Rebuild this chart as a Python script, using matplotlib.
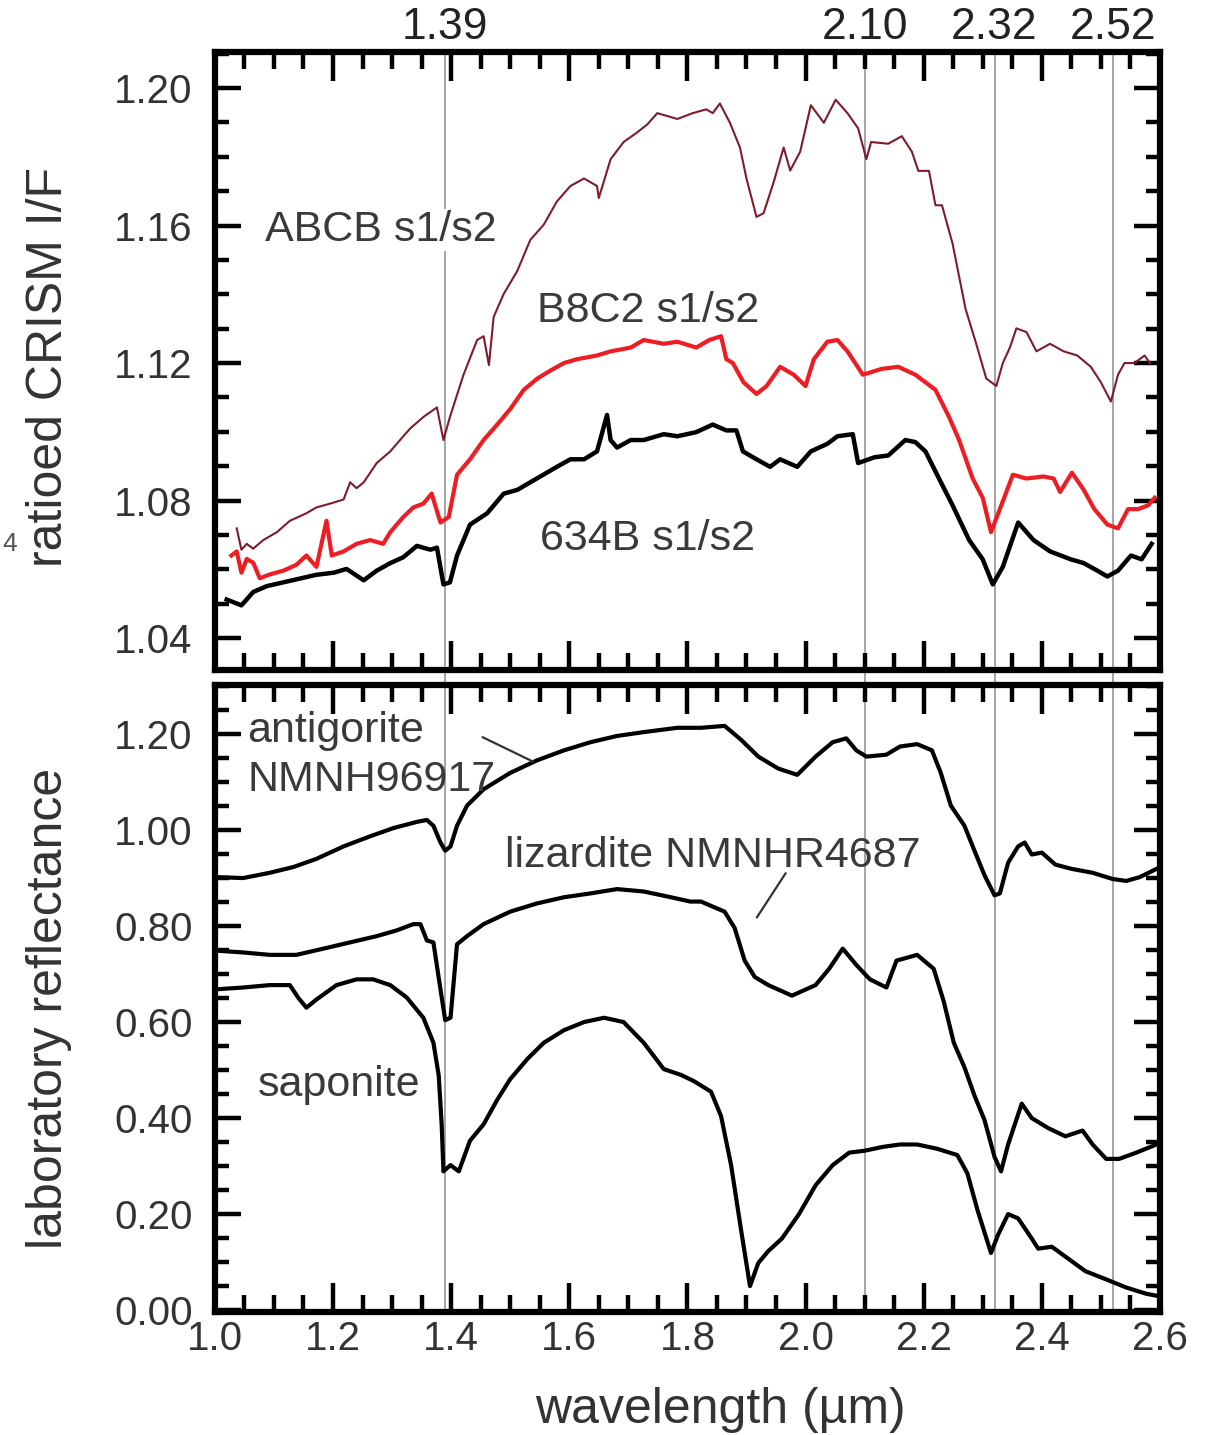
import numpy as np
import matplotlib.pyplot as plt
from matplotlib.ticker import MultipleLocator, FormatStrFormatter

plt.rcParams['font.family'] = ['Liberation Sans', 'DejaVu Sans']

# ---- top panel: ratioed CRISM spectra ----
abcb_wl = [1.037, 1.045, 1.054, 1.065, 1.082, 1.105, 1.127, 1.155, 1.172, 1.195,
           1.218, 1.229, 1.240, 1.252, 1.274, 1.297, 1.319, 1.331, 1.353, 1.376,
           1.387, 1.398, 1.421, 1.444, 1.455, 1.464, 1.472, 1.489, 1.512, 1.534,
           1.557, 1.579, 1.602, 1.625, 1.647, 1.650, 1.670, 1.692, 1.715, 1.732,
           1.749, 1.783, 1.809, 1.832, 1.843, 1.855, 1.872, 1.889, 1.900, 1.917,
           1.929, 1.946, 1.963, 1.974, 1.991, 2.009, 2.031, 2.051, 2.071, 2.089,
           2.103, 2.111, 2.140, 2.163, 2.180, 2.191, 2.209, 2.220, 2.231, 2.249,
           2.271, 2.289, 2.306, 2.323, 2.334, 2.346, 2.357, 2.374, 2.391, 2.414,
           2.437, 2.460, 2.483, 2.500, 2.517, 2.529, 2.540, 2.557, 2.574, 2.583]
abcb_val = [1.0719, 1.0657, 1.0674, 1.0660, 1.0685, 1.0708, 1.0741, 1.0763, 1.0780, 1.0791,
            1.0803, 1.0853, 1.0836, 1.0853, 1.0909, 1.0943, 1.0987, 1.1010, 1.1043, 1.1071,
            1.0976, 1.1043, 1.1166, 1.1267, 1.1278, 1.1194, 1.1334, 1.1401, 1.1468, 1.1558,
            1.1603, 1.1670, 1.1715, 1.1737, 1.1715, 1.1680, 1.1793, 1.1843, 1.1871, 1.1894,
            1.1927, 1.1910, 1.1927, 1.1938, 1.1927, 1.1955, 1.1899, 1.1827, 1.1737, 1.1625,
            1.1636, 1.1726, 1.1827, 1.1760, 1.1815, 1.1950, 1.1899, 1.1966, 1.1927, 1.1883,
            1.1793, 1.1843, 1.1838, 1.1860, 1.1815, 1.1759, 1.1759, 1.1659, 1.1659, 1.1547,
            1.1357, 1.1256, 1.1155, 1.1133, 1.1200, 1.1245, 1.1301, 1.1290, 1.1234, 1.1256,
            1.1234, 1.1222, 1.1189, 1.1144, 1.1088, 1.1166, 1.1200, 1.1200, 1.1222, 1.1200]

b8c2_wl = [1.028, 1.037, 1.045, 1.054, 1.065, 1.076, 1.093, 1.116, 1.138, 1.155,
           1.172, 1.189, 1.198, 1.218, 1.240, 1.263, 1.285, 1.297, 1.319, 1.336,
           1.353, 1.367, 1.382, 1.396, 1.410, 1.432, 1.455, 1.478, 1.500, 1.523,
           1.546, 1.568, 1.591, 1.613, 1.647, 1.670, 1.704, 1.726, 1.760, 1.783,
           1.815, 1.837, 1.857, 1.866, 1.877, 1.895, 1.917, 1.934, 1.957, 1.980,
           2.000, 2.014, 2.037, 2.054, 2.071, 2.097, 2.129, 2.157, 2.186, 2.220,
           2.243, 2.260, 2.283, 2.300, 2.314, 2.329, 2.351, 2.374, 2.403, 2.420,
           2.431, 2.451, 2.471, 2.489, 2.511, 2.529, 2.546, 2.563, 2.580, 2.591]
b8c2_val = [1.0640, 1.0652, 1.0590, 1.0630, 1.0619, 1.0574, 1.0585, 1.0596, 1.0613, 1.0640,
            1.0607, 1.0741, 1.0640, 1.0652, 1.0674, 1.0685, 1.0674, 1.0708, 1.0752, 1.0780,
            1.0791, 1.0820, 1.0736, 1.0752, 1.0875, 1.0920, 1.0976, 1.1021, 1.1066, 1.1122,
            1.1155, 1.1178, 1.1200, 1.1211, 1.1222, 1.1234, 1.1245, 1.1267, 1.1256, 1.1262,
            1.1245, 1.1267, 1.1278, 1.1211, 1.1200, 1.1144, 1.1110, 1.1133, 1.1189, 1.1166,
            1.1133, 1.1211, 1.1262, 1.1267, 1.1234, 1.1166, 1.1183, 1.1189, 1.1166, 1.1122,
            1.1043, 1.0976, 1.0864, 1.0808, 1.0708, 1.0775, 1.0875, 1.0864, 1.0870, 1.0864,
            1.0825, 1.0881, 1.0831, 1.0775, 1.0730, 1.0719, 1.0775, 1.0775, 1.0786, 1.0808]

s634b_wl = [1.020, 1.045, 1.065, 1.088, 1.116, 1.144, 1.172, 1.201, 1.223, 1.252,
            1.274, 1.297, 1.319, 1.342, 1.365, 1.376, 1.387, 1.398, 1.410, 1.432,
            1.461, 1.489, 1.512, 1.534, 1.557, 1.579, 1.602, 1.625, 1.647, 1.664,
            1.670, 1.681, 1.704, 1.726, 1.760, 1.783, 1.815, 1.843, 1.866, 1.883,
            1.894, 1.917, 1.940, 1.957, 1.986, 2.009, 2.037, 2.054, 2.080, 2.089,
            2.117, 2.140, 2.169, 2.186, 2.203, 2.226, 2.249, 2.277, 2.300, 2.317,
            2.334, 2.360, 2.386, 2.414, 2.449, 2.471, 2.494, 2.511, 2.529, 2.551,
            2.569, 2.586]
s634b_val = [1.0512, 1.0495, 1.0534, 1.0551, 1.0562, 1.0573, 1.0584, 1.0590, 1.0601, 1.0568,
             1.0596, 1.0618, 1.0635, 1.0668, 1.0657, 1.0663, 1.0556, 1.0562, 1.0640, 1.0730,
             1.0763, 1.0820, 1.0831, 1.0853, 1.0876, 1.0898, 1.0920, 1.0920, 1.0943, 1.1049,
             1.0976, 1.0954, 1.0976, 1.0976, 1.0993, 1.0987, 1.0999, 1.1021, 1.1004, 1.1004,
             1.0943, 1.0920, 1.0898, 1.0920, 1.0898, 1.0943, 1.0965, 1.0987, 1.0993, 1.0909,
             1.0926, 1.0931, 1.0976, 1.0970, 1.0943, 1.0864, 1.0786, 1.0685, 1.0629, 1.0556,
             1.0607, 1.0736, 1.0685, 1.0652, 1.0629, 1.0618, 1.0596, 1.0579, 1.0596, 1.0640,
             1.0629, 1.0674]

# ---- bottom panel: laboratory spectra ----
antig_wl = [1.000, 1.048, 1.093, 1.133, 1.172, 1.218, 1.263, 1.302, 1.342, 1.359,
            1.370, 1.382, 1.390, 1.399, 1.410, 1.427, 1.455, 1.500, 1.545, 1.591,
            1.636, 1.681, 1.726, 1.783, 1.823, 1.863, 1.891, 1.920, 1.954, 1.986,
            2.017, 2.046, 2.069, 2.086, 2.103, 2.137, 2.160, 2.189, 2.214, 2.229,
            2.246, 2.269, 2.286, 2.303, 2.320, 2.329, 2.343, 2.360, 2.371, 2.383,
            2.400, 2.423, 2.451, 2.486, 2.520, 2.543, 2.566, 2.594]
antig_val = [0.902, 0.900, 0.911, 0.923, 0.940, 0.966, 0.987, 1.004, 1.017, 1.021,
             1.009, 0.974, 0.957, 0.966, 1.009, 1.051, 1.085, 1.119, 1.145, 1.166,
             1.183, 1.196, 1.204, 1.213, 1.213, 1.217, 1.188, 1.153, 1.128, 1.115,
             1.153, 1.183, 1.191, 1.166, 1.153, 1.157, 1.174, 1.179, 1.166, 1.119,
             1.051, 1.009, 0.957, 0.906, 0.864, 0.868, 0.932, 0.966, 0.974, 0.949,
             0.953, 0.928, 0.919, 0.911, 0.898, 0.894, 0.902, 0.919]

lizard_wl = [1.000, 1.048, 1.093, 1.138, 1.184, 1.229, 1.274, 1.308, 1.336, 1.348,
             1.359, 1.370, 1.382, 1.390, 1.399, 1.410, 1.427, 1.455, 1.500, 1.545,
             1.591, 1.636, 1.681, 1.726, 1.772, 1.805, 1.823, 1.863, 1.880, 1.897,
             1.914, 1.937, 1.977, 2.017, 2.040, 2.063, 2.086, 2.109, 2.137, 2.154,
             2.189, 2.217, 2.234, 2.251, 2.269, 2.286, 2.303, 2.320, 2.331, 2.343,
             2.366, 2.383, 2.411, 2.440, 2.469, 2.486, 2.509, 2.531, 2.560, 2.594]
lizard_val = [0.749, 0.745, 0.740, 0.740, 0.753, 0.766, 0.779, 0.791, 0.804, 0.804,
              0.770, 0.766, 0.668, 0.604, 0.609, 0.762, 0.779, 0.804, 0.830, 0.847,
              0.860, 0.868, 0.877, 0.872, 0.860, 0.851, 0.851, 0.830, 0.796, 0.728,
              0.694, 0.677, 0.655, 0.677, 0.711, 0.753, 0.719, 0.689, 0.672, 0.728,
              0.740, 0.711, 0.643, 0.557, 0.506, 0.447, 0.396, 0.319, 0.289, 0.345,
              0.430, 0.400, 0.379, 0.362, 0.374, 0.345, 0.315, 0.315, 0.328, 0.345]

sapon_wl = [1.000, 1.048, 1.093, 1.127, 1.141, 1.155, 1.172, 1.206, 1.240, 1.268,
            1.297, 1.325, 1.353, 1.370, 1.379, 1.384, 1.387, 1.399, 1.413, 1.432,
            1.455, 1.478, 1.500, 1.529, 1.557, 1.591, 1.625, 1.659, 1.692, 1.726,
            1.760, 1.789, 1.811, 1.840, 1.857, 1.874, 1.891, 1.906, 1.920, 1.937,
            1.960, 1.989, 2.017, 2.046, 2.074, 2.100, 2.131, 2.160, 2.189, 2.223,
            2.257, 2.274, 2.291, 2.314, 2.326, 2.343, 2.360, 2.383, 2.394, 2.417,
            2.446, 2.474, 2.509, 2.543, 2.577, 2.594]
sapon_val = [0.668, 0.672, 0.677, 0.677, 0.651, 0.630, 0.647, 0.677, 0.689, 0.689,
             0.677, 0.651, 0.609, 0.557, 0.489, 0.387, 0.289, 0.302, 0.289, 0.353,
             0.387, 0.438, 0.481, 0.523, 0.557, 0.583, 0.600, 0.609, 0.600, 0.557,
             0.502, 0.490, 0.477, 0.455, 0.404, 0.302, 0.166, 0.050, 0.098, 0.123,
             0.149, 0.200, 0.260, 0.302, 0.328, 0.332, 0.340, 0.345, 0.345, 0.336,
             0.323, 0.285, 0.209, 0.119, 0.157, 0.200, 0.191, 0.149, 0.128, 0.132,
             0.106, 0.081, 0.064, 0.047, 0.034, 0.030]

band_wl = [1.39, 2.10, 2.32, 2.52]
band_labels = ['1.39', '2.10', '2.32', '2.52']

txt = '#3a3a3a'

fig = plt.figure(figsize=(12.07, 14.35), dpi=100)
ax1 = fig.add_axes([0.178, 0.5331, 0.783, 0.4307])
ax2 = fig.add_axes([0.178, 0.0857, 0.783, 0.4369])

for ax in (ax1, ax2):
    ax.set_xlim(1.0, 2.6)
    ax.xaxis.set_major_locator(MultipleLocator(0.2))
    ax.xaxis.set_minor_locator(MultipleLocator(0.05))
    ax.tick_params(which='both', direction='in', top=True, right=True,
                   width=3.2, color='black', labelsize=29, labelcolor='#333333')
    ax.tick_params(axis='x', which='major', length=21, pad=6)
    ax.tick_params(axis='x', which='minor', length=12)
    ax.tick_params(axis='y', which='major', length=19, pad=16)
    ax.tick_params(axis='y', which='minor', length=10)
    for sp in ax.spines.values():
        sp.set_linewidth(4.5)
    for w in band_wl:
        ax.axvline(w, color='#8c8c8c', lw=1.1, zorder=1)

ax1.tick_params(axis='x', labelbottom=False)
ax1.set_ylim(1.0307, 1.2105)
ax1.yaxis.set_major_locator(MultipleLocator(0.04))
ax1.yaxis.set_minor_locator(MultipleLocator(0.01))
ax1.yaxis.set_major_formatter(FormatStrFormatter('%.2f'))
# short bits of the band lines in the gap between the panels
for w in band_wl:
    ax1.axvline(w, ymin=-0.03, ymax=0, color='#8c8c8c', lw=1.1, clip_on=False)

sec = ax1.secondary_xaxis('top')
sec.set_xticks(band_wl, labels=band_labels)
sec.tick_params(length=0, pad=3, labelsize=32, labelcolor='#222222')
sec.spines['top'].set_visible(False)

ax1.plot(abcb_wl, abcb_val, color='#7d1c2c', lw=1.5, zorder=3)
ax1.plot(b8c2_wl, b8c2_val, color='#ee1d23', lw=3.0, zorder=3)
ax1.plot(s634b_wl, s634b_val, color='black', lw=3.2, zorder=3)

ax1.text(1.085, 1.1555, 'ABCB s1/s2', fontsize=31, color=txt, va='baseline',
         bbox=dict(facecolor='white', edgecolor='none', pad=1), zorder=2)
ax1.text(1.546, 1.132, 'B8C2 s1/s2', fontsize=31, color=txt, va='baseline')
ax1.text(1.551, 1.0655, '634B s1/s2', fontsize=31, color=txt, va='baseline')

ax2.set_ylim(-0.004, 1.302)
ax2.yaxis.set_major_locator(MultipleLocator(0.2))
ax2.yaxis.set_minor_locator(MultipleLocator(0.05))
ax2.yaxis.set_major_formatter(FormatStrFormatter('%.2f'))
ax2.xaxis.set_major_formatter(FormatStrFormatter('%.1f'))

ax2.plot(antig_wl, antig_val, color='black', lw=3.0, zorder=3)
ax2.plot(lizard_wl, lizard_val, color='black', lw=3.0, zorder=3)
ax2.plot(sapon_wl, sapon_val, color='black', lw=3.0, zorder=3)

ax2.text(1.054, 1.183, 'antigorite', fontsize=31, color=txt, va='baseline')
ax2.text(1.056, 1.081, 'NMNH96917', fontsize=31, color=txt, va='baseline')
ax2.text(1.492, 0.923, 'lizardite NMNHR4687', fontsize=31, color=txt, va='baseline')
ax2.text(1.073, 0.447, 'saponite', fontsize=31, color=txt, va='baseline')
ax2.annotate('', xy=(1.543, 1.140), xytext=(1.449, 1.196),
             arrowprops=dict(arrowstyle='-', color='#333333', lw=1.6))
ax2.annotate('', xy=(1.915, 0.813), xytext=(1.969, 0.915),
             arrowprops=dict(arrowstyle='-', color='#333333', lw=1.6))

fig.text(0.0406, 0.744, 'ratioed CRISM I/F', rotation=90, fontsize=36,
         color='#333333', ha='center', va='center')
fig.text(0.0406, 0.297, 'laboratory reflectance', rotation=90, fontsize=36,
         color='#333333', ha='center', va='center')
fig.text(0.597, 0.0174, 'wavelength (µm)', fontsize=36, color='#333333',
         ha='center', va='center')
fig.text(0.002, 0.621, '4', fontsize=19, color='#555555', ha='left', va='center')

fig.savefig('out.png', dpi=100)
